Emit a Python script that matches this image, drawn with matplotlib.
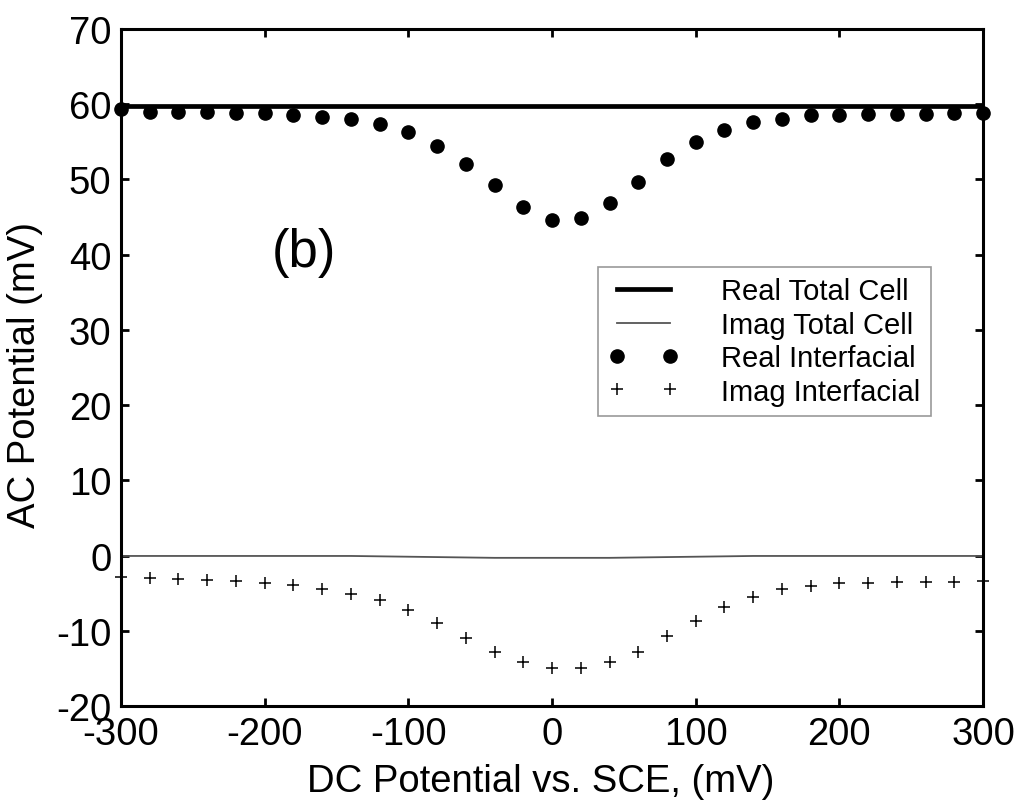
import matplotlib
matplotlib.use("Agg")
import matplotlib.pyplot as plt

plt.rcParams["font.family"] = ["Liberation Sans", "DejaVu Sans"]
plt.rcParams["axes.unicode_minus"] = False

# DC potential sweep (mV vs. SCE)
dc_potential = [-300, -280, -260, -240, -220, -200, -180, -160, -140, -120, -100,
                -80, -60, -40, -20, 0, 20, 40, 60, 80, 100, 120, 140, 160, 180,
                200, 220, 240, 260, 280, 300]

# Total-cell AC potential (mV)
real_total = [59.8, 59.8, 59.8, 59.8, 59.8, 59.8, 59.8, 59.8, 59.8, 59.8, 59.8,
              59.8, 59.8, 59.8, 59.8, 59.8, 59.8, 59.8, 59.8, 59.8, 59.8, 59.8,
              59.8, 59.8, 59.8, 59.8, 59.8, 59.8, 59.8, 59.8, 59.8]
imag_total = [-0.05, -0.05, -0.05, -0.05, -0.05, -0.05, -0.05, -0.05, -0.05,
              -0.1, -0.15, -0.2, -0.25, -0.3, -0.3, -0.3, -0.3, -0.3, -0.25,
              -0.2, -0.15, -0.1, -0.05, -0.05, -0.05, -0.05, -0.05, -0.05,
              -0.05, -0.05, -0.05]

# Interfacial AC potential (mV)
real_interfacial = [59.4, 59.0, 58.9, 58.9, 58.8, 58.8, 58.6, 58.3, 58.0, 57.4,
                    56.3, 54.5, 52.0, 49.2, 46.4, 44.6, 44.9, 46.9, 49.7, 52.7,
                    55.0, 56.6, 57.6, 58.1, 58.6, 58.6, 58.7, 58.7, 58.7, 58.8,
                    58.8]
imag_interfacial = [-2.8, -3.0, -3.1, -3.3, -3.4, -3.6, -3.9, -4.4, -5.1, -5.9,
                    -7.3, -9.0, -11.0, -12.8, -14.2, -14.9, -14.9, -14.1, -12.8,
                    -10.7, -8.7, -6.9, -5.5, -4.5, -4.0, -3.7, -3.6, -3.5, -3.5,
                    -3.5, -3.4]

x_ticks = [-300, -200, -100, 0, 100, 200, 300]
y_ticks = [-20, -10, 0, 10, 20, 30, 40, 50, 60, 70]

fig = plt.figure(figsize=(10.23, 8.04), dpi=100)
ax = fig.add_axes([0.1183, 0.1206, 0.8427, 0.8421])

ax.plot(dc_potential, real_total, color="black", lw=3.4, label="Real Total Cell")
ax.plot(dc_potential, imag_total, color="#555555", lw=1.3, label="Imag Total Cell")
ax.plot(dc_potential, real_interfacial, ls="none", marker="o", ms=9.5,
        color="black", label="Real Interfacial", clip_on=False)
ax.plot(dc_potential, imag_interfacial, ls="none", marker="+", ms=9, mew=1.1,
        color="black", label="Imag Interfacial", clip_on=False)

ax.set_xlim(-300, 300)
ax.set_ylim(-20, 70)
ax.set_xticks(x_ticks)
ax.set_yticks(y_ticks)

for side in ax.spines.values():
    side.set_linewidth(2.2)
ax.tick_params(direction="in", length=6, width=2, top=True, right=True,
               labelsize=27.5, pad=7)

ax.set_xlabel("DC Potential vs. SCE, (mV)", fontsize=27.5)
ax.set_ylabel("AC Potential (mV)", fontsize=27.5)
ax.xaxis.set_label_coords(0.5 - 11 / 862, -57 / 677, transform=ax.transAxes)
ax.yaxis.set_label_coords(-78 / 862, 0.49, transform=ax.transAxes)

ax.text(-173, 40.3, "(b)", fontsize=38, ha="center", va="center")

leg = ax.legend(loc="upper left", bbox_to_anchor=(598 / 1023, 1 - 268 / 804),
                bbox_transform=fig.transFigure, fontsize=21, numpoints=2,
                handlelength=2.4, handletextpad=1.45, labelspacing=0.185,
                borderpad=0.36, borderaxespad=0, fancybox=False, framealpha=1)
leg.get_frame().set_edgecolor("#999999")
leg.get_frame().set_linewidth(1.2)

fig.savefig("out.png", dpi=100)
